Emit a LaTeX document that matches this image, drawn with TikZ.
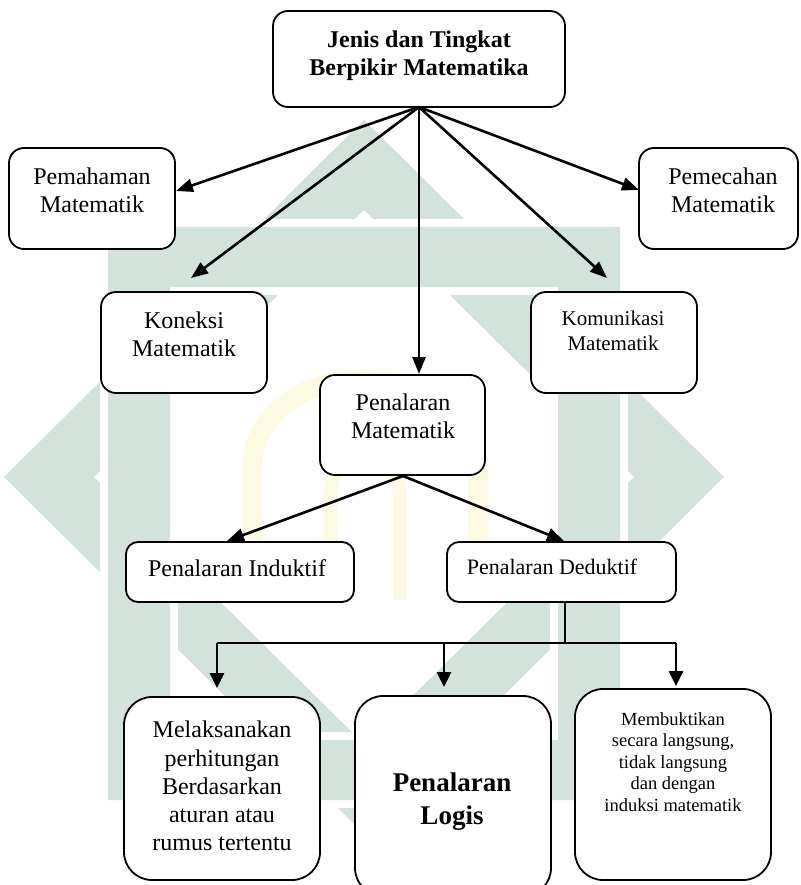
\documentclass[tikz,border=0pt]{standalone}
\usepackage{fontspec}
\setmainfont{Liberation Serif}
\usetikzlibrary{arrows.meta}
\definecolor{wm}{RGB}{211,226,218}
\definecolor{wy}{RGB}{253,250,228}
\begin{document}
\begin{tikzpicture}[x=1pt,y=-1pt,
  box/.style={draw, fill=white, line width=1.8pt, rounded corners=15pt, inner sep=0pt},
  bigbox/.style={draw, fill=white, line width=1.8pt, rounded corners=28pt, inner sep=0pt},
  txt/.style={align=center, inner sep=0pt, font=\fontsize{24}{27.5}\selectfont},
  arr/.style={line width=2.6pt, -{Triangle[length=17pt,width=13pt]}},
  darr/.style={line width=2.6pt, -{Triangle[length=15pt,width=14pt]}},
  conn/.style={line width=2.4pt},
]
\useasboundingbox (0,0) rectangle (800,885);
% ---- watermark ----
\fill[wm, even odd rule] (364,120) -- (724,477) -- (364,834) -- (4,477) -- cycle
                         (364,210) -- (634,477) -- (364,744) -- (94,477) -- cycle;
\draw[white, line width=16pt] (108,227) rectangle (620,800);
\draw[white, line width=16pt] (170,287) rectangle (558,740);
\fill[wm, even odd rule] (108,227) rectangle (620,800) (170,287) rectangle (558,740);
\draw[wy, line width=20pt] (252,600) -- (252,470) .. controls (252,350) and (478,350) .. (478,470) -- (478,600);
\draw[wy, line width=14pt] (330,600) -- (330,500) .. controls (330,440) and (400,440) .. (400,500) -- (400,600);
% ---- boxes ----
\node[box, minimum width=292pt, minimum height=96pt] (top) at (419,59) {};
\node[box, minimum width=166pt, minimum height=101pt] (pem) at (92,198.5) {};
\node[box, minimum width=159pt, minimum height=101pt] (pec) at (718.5,198.5) {};
\node[box, minimum width=166pt, minimum height=101pt] (kon) at (184,342.5) {};
\node[box, minimum width=166pt, minimum height=101pt] (kom) at (614,342.5) {};
\node[box, minimum width=165pt, minimum height=100pt] (pm) at (402.5,425) {};
\node[box, minimum width=228pt, minimum height=60pt, rounded corners=12pt] (ind) at (240,572) {};
\node[box, minimum width=229pt, minimum height=60pt, rounded corners=12pt] (ded) at (561.5,572) {};
\node[bigbox, minimum width=196pt, minimum height=183pt] (b1) at (222,788.5) {};
\node[bigbox, minimum width=196pt, minimum height=200pt] (b2) at (453,796) {};
\node[bigbox, minimum width=196pt, minimum height=191pt] (b3) at (673,784.5) {};
% ---- texts ----
\node[txt, font=\fontsize{24}{28}\selectfont\bfseries] (toptxt) at (419,56) {Jenis dan Tingkat\\Berpikir Matematika};
\node[txt] (pemtxt) at (92,190.5) {Pemahaman\\Matematik};
\node[txt] (pectxt) at (723,190.5) {Pemecahan\\Matematik};
\node[txt] (kontxt) at (184,334.5) {Koneksi\\Matematik};
\node[txt, font=\fontsize{21}{25}\selectfont] (komtxt) at (613,330.5) {Komunikasi\\Matematik};
\node[txt] (pmtxt) at (403,416.5) {Penalaran\\Matematik};
\node[txt] (indtxt) at (237,568) {Penalaran Induktif};
\node[txt, font=\fontsize{22}{26}\selectfont] (dedtxt) at (552,567) {Penalaran Deduktif};
\node[txt, font=\fontsize{24}{28.2}\selectfont] (b1txt) at (222,786) {Melaksanakan\\perhitungan\\Berdasarkan\\aturan atau\\rumus tertentu};
\node[txt, font=\fontsize{27}{33}\selectfont\bfseries] (b2txt) at (452,801.5) {Penalaran\\Logis};
\node[txt, font=\fontsize{18.5}{21.5}\selectfont] (b3txt) at (673,762) {Membuktikan\\secara langsung,\\tidak langsung\\dan dengan\\induksi matematik};
% ---- connectors ----
\coordinate (o) at (419,107);
\coordinate (t1) at (176,191);
\coordinate (t2) at (191,278);
\coordinate (t3) at (419,374);
\coordinate (t4) at (607,278);
\coordinate (t5) at (639,190);
\draw[arr] (o) -- (t1);
\draw[arr] (o) -- (t2);
\draw[arr] (o) -- (t3);
\draw[arr] (o) -- (t4);
\draw[arr] (o) -- (t5);
\coordinate (p) at (403,476);
\coordinate (ti) at (227,541);
\coordinate (td) at (564,541);
\draw[arr] (p) -- (ti);
\draw[arr] (p) -- (td);
\coordinate (j) at (565,643);
\coordinate (hl) at (217,643);
\coordinate (hm) at (444,643);
\coordinate (hr) at (676,643);
\coordinate (e1) at (217,688);
\coordinate (e2) at (444,687);
\coordinate (e3) at (676,686);
\draw[conn] (ded.south -| j) -- (j);
\draw[conn] (hl) -- (hr);
\draw[darr] (hl) -- (e1);
\draw[darr] (hm) -- (e2);
\draw[darr] (hr) -- (e3);
\end{tikzpicture}
\end{document}
